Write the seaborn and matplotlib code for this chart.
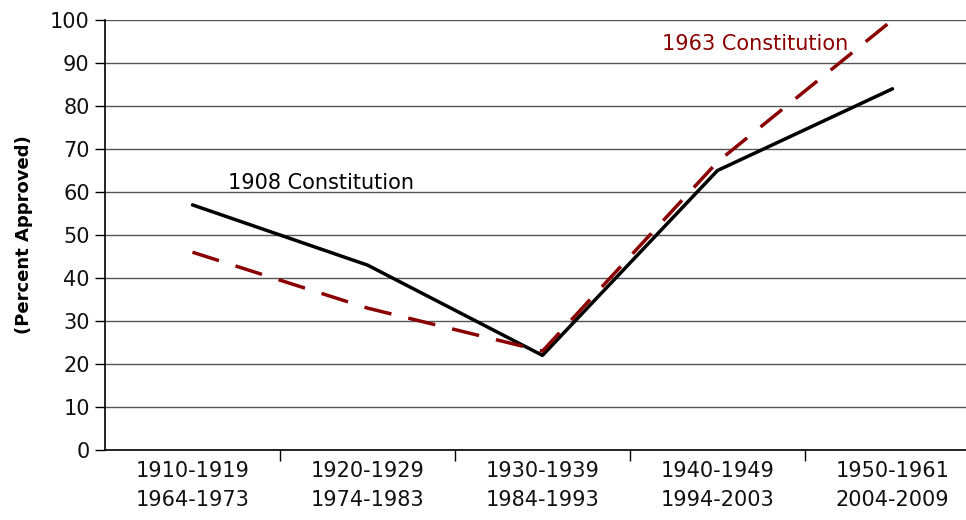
import pandas as pd
import numpy as np
import matplotlib
matplotlib.use('Agg')
import matplotlib.pyplot as plt
import seaborn as sns

# %% Data
decades = ['1910-1919\n1964-1973', '1920-1929\n1974-1983', '1930-1939\n1984-1993',
           '1940-1949\n1994-2003', '1950-1961\n2004-2009']
approved_1908 = [57, 43, 22, 65, 84]
approved_1963 = [46, 33, 23, 67, 100]

df = pd.DataFrame({
    'pos': list(range(len(decades))) * 2,
    'pct': approved_1908 + approved_1963,
    'constitution': ['1908 Constitution'] * 5 + ['1963 Constitution'] * 5,
})

# %% Plot
sns.set_style('white', {'xtick.bottom': True, 'ytick.left': True})
plt.rcParams['font.family'] = ['DejaVu Sans']

fig = plt.figure(figsize=(9.66, 5.2), dpi=100)
ax = fig.add_axes([105 / 966, 70 / 520, 875 / 966, 430 / 520])

sns.lineplot(data=df[df.constitution == '1908 Constitution'], x='pos', y='pct',
             color='black', lw=2.5, ax=ax, sort=False)
sns.lineplot(data=df[df.constitution == '1963 Constitution'], x='pos', y='pct',
             color='#8B0000', lw=2.5, dashes=False, ax=ax, sort=False)
ax.lines[-1].set_dashes((8, 5))
ax.lines[-1].set_clip_on(False)

ax.set_xlim(-0.5, 4.5)
ax.set_ylim(0, 100)
ax.set_yticks(np.arange(0, 101, 10))
ax.yaxis.grid(True, color='#555555', lw=1)
ax.set_axisbelow(True)

ax.set_xticks(range(len(decades)))
ax.set_xticklabels(decades, fontsize=15, linespacing=1.55, color='#111111')
ax.set_xticks(np.arange(0.5, 4.5, 1), minor=True)
ax.tick_params(axis='x', which='major', bottom=True, length=0, pad=8)
ax.tick_params(axis='x', which='minor', bottom=True, length=8, width=1,
               color='black', direction='out')
ax.tick_params(axis='y', which='major', left=True, length=7, width=1, color='black',
               direction='out', labelsize=15, labelcolor='#111111', pad=4)

for s in ['top', 'right']:
    ax.spines[s].set_visible(False)
for s in ['left', 'bottom']:
    ax.spines[s].set_color('black')
    ax.spines[s].set_linewidth(1.2)

ax.set_xlabel('')
ax.set_ylabel('(Percent Approved)', fontsize=13, fontweight='bold', color='black', labelpad=12)

ax.text(0.2, 62, '1908 Constitution', fontsize=15, color='black', va='center', ha='left')
ax.text(2.68, 94.5, '1963 Constitution', fontsize=15, color='#8B0000', va='center', ha='left')

fig.savefig('out.png', dpi=100)
